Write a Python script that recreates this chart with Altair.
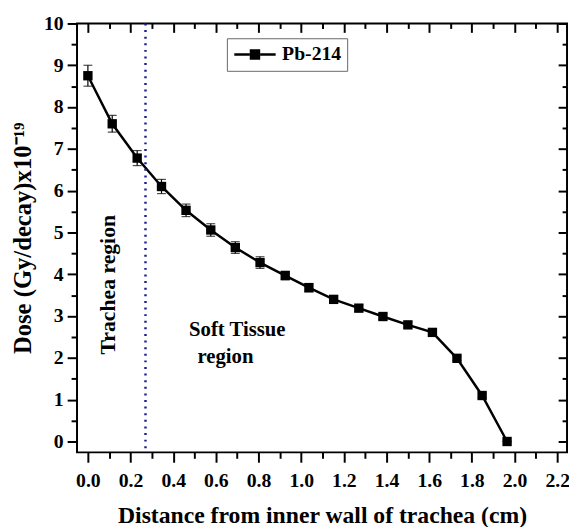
import altair as alt
import pandas as pd

distance = [0.0, 0.114, 0.231, 0.345, 0.46, 0.576, 0.691, 0.807, 0.925, 1.036,
            1.152, 1.27, 1.383, 1.5, 1.615, 1.73, 1.848, 1.965]
dose = [8.75, 7.6, 6.78, 6.1, 5.53, 5.06, 4.64, 4.28, 3.97, 3.68,
        3.40, 3.19, 2.99, 2.79, 2.61, 1.99, 1.10, 0.0]
err = [0.25, 0.2, 0.18, 0.17, 0.15, 0.15, 0.14, 0.14, 0.1, 0.1,
       0.08, 0.08, 0.07, 0.07, 0.06, 0.05, 0.05, 0.0]
series = "Pb-214"
boundary = [0.27]

x_major = [round(0.2 * i, 1) for i in range(12)]
x_minor = [round(0.1 + 0.2 * i, 1) for i in range(11)]
y_major = list(range(11))
y_minor = [0.5 + i for i in range(10)]

df = pd.DataFrame({"x": distance, "y": dose, "err": err,
                   "lo": [d - e for d, e in zip(dose, err)],
                   "hi": [d + e for d, e in zip(dose, err)],
                   "series": [series] * len(dose)})
bdf = pd.DataFrame({"x": boundary})
ann = pd.DataFrame({"x": [0.70, 0.645], "y": [2.66, 2.02], "t": ["Soft Tissue", "region"]})
ann2 = pd.DataFrame({"x": [0.097], "y": [3.75], "t": ["Trachea region"]})

FONT = "Liberation Serif"
xs = alt.Scale(domain=[-0.051, 2.246], nice=False, zero=False)
ys = alt.Scale(domain=[-0.26, 10.0], nice=False, zero=False)


def ax(**kw):
    d = dict(labelFont=FONT, labelFontSize=20, labelFontWeight="bold", labelColor="black",
             titleFont=FONT, titleFontSize=24, titleFontWeight="bold", titleColor="black",
             tickColor="black", tickWidth=2, domain=False, grid=False)
    d.update(kw)
    return alt.Axis(**d)


base = alt.Chart(df)

line = base.mark_line(color="black", strokeWidth=2.5).encode(
    x=alt.X("x:Q", scale=xs, axis=ax(
        orient="bottom", values=x_major, format=".1f", tickSize=10,
        labelPadding=9, title="Distance from inner wall of trachea (cm)",
        titlePadding=13)),
    y=alt.Y("y:Q", scale=ys, axis=ax(
        orient="left", values=y_major, format="d", tickSize=10,
        labelPadding=4, title="Dose (Gy/decay)x10\u207b\u00b9\u2079",
        titleFontSize=25, titlePadding=8)),
    color=alt.Color("series:N", scale=alt.Scale(range=["black"]), legend=alt.Legend(
        orient="none", legendX=152, legendY=15, title=None,
        symbolType="M-2.33,0H-0.6M0.6,0H2.33M-0.45,-0.45H0.45V0.45H-0.45Z",
        symbolSize=324, symbolStrokeWidth=2.5, symbolFillColor="black",
        symbolStrokeColor="black", symbolOffset=12,
        labelFont=FONT, labelFontSize=20, labelFontWeight="bold",
        labelColor="black", labelOffset=17,
        strokeColor="#666666", padding=6, fillColor="white")),
)

minor = base.mark_point(opacity=0).encode(
    x=alt.X("x:Q", scale=xs, axis=ax(
        orient="bottom", values=x_minor, labels=False, tickSize=6, title=None)),
    y=alt.Y("y:Q", scale=ys, axis=ax(
        orient="left", values=y_minor, labels=False, tickSize=6, title=None)),
)

top_major = base.mark_point(opacity=0).encode(
    x=alt.X("x:Q", scale=xs, axis=ax(
        orient="top", values=x_major, labels=False, tickSize=9, offset=-9, title=None)),
    y=alt.Y("y:Q", scale=ys, axis=ax(
        orient="right", values=y_major, labels=False, tickSize=9, offset=-9, title=None)),
)

top_minor = base.mark_point(opacity=0).encode(
    x=alt.X("x:Q", scale=xs, axis=ax(
        orient="top", values=x_minor, labels=False, tickSize=5, offset=-5, title=None)),
    y=alt.Y("y:Q", scale=ys, axis=ax(
        orient="right", values=y_minor, labels=False, tickSize=5, offset=-5, title=None)),
)

errbars = base.mark_errorbar(ticks=True, size=9, thickness=1.2, color="black").encode(
    x=alt.X("x:Q", scale=xs, axis=None),
    y=alt.Y("lo:Q", scale=ys, axis=None),
    y2="hi:Q",
)

points = base.mark_point(shape="square", filled=True, size=90, color="black", opacity=1).encode(
    x=alt.X("x:Q", scale=xs, axis=None),
    y=alt.Y("y:Q", scale=ys, axis=None),
)

rule = alt.Chart(bdf).mark_rule(color="#1f1f8f", strokeWidth=2.5,
                                strokeDash=[2, 4.7]).encode(
    x=alt.X("x:Q", scale=xs, axis=None),
)

text1 = alt.Chart(ann).mark_text(font=FONT, fontSize=21, fontWeight="bold",
                                 color="black").encode(
    x=alt.X("x:Q", scale=xs, axis=None),
    y=alt.Y("y:Q", scale=ys, axis=None),
    text="t:N",
)

text2 = alt.Chart(ann2).mark_text(font=FONT, fontSize=22, fontWeight="bold",
                                  color="black", angle=270).encode(
    x=alt.X("x:Q", scale=xs, axis=None),
    y=alt.Y("y:Q", scale=ys, axis=None),
    text="t:N",
)

chart = alt.layer(line, minor, top_major, top_minor, rule, errbars, points, text1, text2).resolve_axis(
    x="independent", y="independent"
).properties(
    width=497, height=435,
    autosize=alt.AutoSizeParams(type="none"),
    padding={"left": 70, "top": 12, "right": 2, "bottom": 72},
).configure(
    font=FONT
).configure_view(
    stroke="black", strokeWidth=2
)

chart.save("out.html", embed_options={"renderer": "svg", "actions": False})
